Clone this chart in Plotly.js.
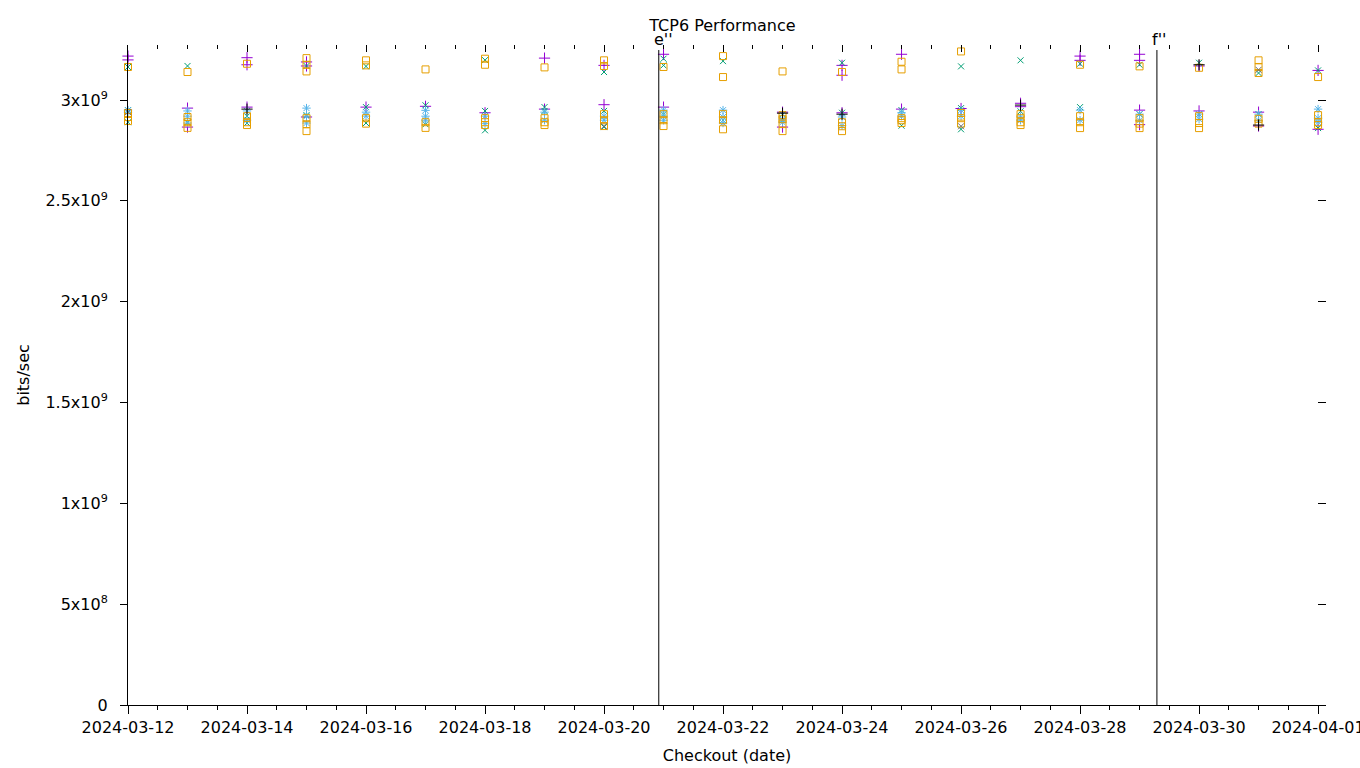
<!DOCTYPE html>
<html>
<head>
<meta charset="utf-8">
<script src="https://cdn.plot.ly/plotly-3.0.1.min.js"></script>
<style>html,body{margin:0;padding:0;background:#fff;}#chart{width:1360px;height:768px;}</style>
</head>
<body>
<div id="chart"></div>
<script>
// Checkout dates (x categories)
const checkoutDates = ['2024-03-12','2024-03-13','2024-03-14','2024-03-15','2024-03-16','2024-03-17','2024-03-18',
  '2024-03-19','2024-03-20','2024-03-21','2024-03-22','2024-03-23','2024-03-24','2024-03-25','2024-03-26',
  '2024-03-27','2024-03-28','2024-03-29','2024-03-30','2024-03-31','2024-04-01'];

// Throughput per checkout date, in Gbit/s (several runs per day)
const seriesPurple = [[3.218,3.199],[2.96,2.866],[3.21,3.175,2.965],[3.189,3.169,2.916],[2.965],[2.969],[2.937],
  [3.208,2.955],[3.172,2.977],[3.227,2.965],[],[2.94,2.866],[3.172,3.123,2.937],[3.227,2.955],[2.958],
  [2.984,2.967],[3.218,3.197],[3.227,3.197,2.95,2.878],[3.169,2.946],[2.94,2.871],[3.147,2.855]];
const seriesGreen = [[3.164,2.95,2.89],[3.169,2.89],[2.92,2.886],[3.169,2.925],[3.167,2.965,2.886],[2.974,2.88],
  [3.198,2.946,2.85],[2.965,2.946],[3.139,2.946,2.866],[3.205,3.172,2.93],[3.193,2.9],[2.93,2.9],[3.185,2.937],
  [2.95,2.873],[3.167,2.96,2.855],[3.197,2.944],[3.18,2.965],[3.175,2.93],[3.185,2.93],[3.134,2.93],[3.147,2.861]];
const seriesBlue = [[2.95,2.94],[2.946,2.92,2.886],[2.946,2.9],[2.96,2.92,2.886],[2.94,2.92],[2.949,2.92,2.9],
  [2.92,2.883],[2.94,2.9],[2.92,2.9],[2.95,2.92,2.9],[2.95,2.916,2.886],[2.905,2.89],[2.916,2.873],[2.937,2.92],
  [2.95,2.92],[2.916,2.9],[2.95,2.9],[2.93,2.9],[2.93,2.905],[2.93,2.9],[2.955,2.91,2.89]];
const seriesOrange = [[3.164,2.936,2.916,2.896],[3.139,2.916,2.89,2.862],[3.18,2.92,2.89,2.876],
  [3.208,3.175,3.142,2.91,2.88,2.846],[3.197,3.172,2.91,2.883],[3.152,2.89,2.862],[3.205,3.175,2.91,2.89,2.876],
  [3.162,2.91,2.89,2.876],[3.197,3.169,2.93,2.9,2.871],[3.164,2.93,2.9,2.871],[3.218,3.114,2.93,2.9,2.855],
  [3.142,2.925,2.905,2.883,2.846],[3.139,2.89,2.87,2.846],[3.19,3.152,2.91,2.886,2.9],[3.241,2.936,2.91,2.883],
  [2.93,2.91,2.89,2.876],[3.175,2.92,2.89,2.861],[3.167,2.91,2.883,2.861],[3.16,2.92,2.886,2.861],
  [3.197,3.164,3.134,2.907,2.883],[3.114,2.925,2.89,2.876]];
const seriesBlack = [[],[],[2.955],[],[],[],[],[],[],[],[],[2.935],[2.93],[],[],[2.975],[],[],[3.175],[2.876],[]];
const seriesGray = [[2.94],[],[],[],[],[],[],[],[2.87],[],[],[],[],[],[2.87],[],[],[],[],[3.15],[]];

// Y tick labels
const yTickVals = [0, 5e8, 1e9, 1.5e9, 2e9, 2.5e9, 3e9];
const yTickText = ['0','5x10<sup>8</sup>','1x10<sup>9</sup>','1.5x10<sup>9</sup>','2x10<sup>9</sup>','2.5x10<sup>9</sup>','3x10<sup>9</sup>'];

// Marked events
const eventDates = ['2024-03-20 22:05', '2024-03-29 07:00'];
const eventLabels = ["e''", "f''"];

function expand(series) {
  const x = [], y = [];
  series.forEach((vals, i) => vals.forEach(v => { x.push(checkoutDates[i]); y.push(v * 1e9); }));
  return {x, y};
}

const styles = [
  {data: seriesPurple, color: '#9400d3', symbol: 'cross-thin-open', size: 8},
  {data: seriesGreen, color: '#009e73', symbol: 'x-thin-open', size: 6},
  {data: seriesBlue, color: '#56b4e9', symbol: 'asterisk-open', size: 7},
  {data: seriesOrange, color: '#e69f00', symbol: 'square-open', size: 7},
  {data: seriesBlack, color: '#000000', symbol: 'cross-thin-open', size: 8},
  {data: seriesGray, color: '#707070', symbol: 'x-thin-open', size: 6}
];

const traces = styles.map(s => {
  const e = expand(s.data);
  return {type: 'scatter', mode: 'markers', x: e.x, y: e.y, showlegend: false, cliponaxis: false,
    marker: {symbol: s.symbol, size: s.size, color: s.color, line: {color: s.color, width: 1}}};
});

const FONT = 'DejaVu Sans, sans-serif';
const FS = 16;
const xRange = ['2024-03-12 00:00', '2024-04-01 03:12'];
const yTop = 3.273e9;

const shapes = eventDates.map(d => ({type: 'line', xref: 'x', yref: 'paper', x0: d, x1: d, y0: 0, y1: 0.9924,
  line: {color: '#000', width: 1}}));
const annotations = eventDates.map((d, i) => ({xref: 'x', yref: 'paper', x: d, y: 1.0076, text: eventLabels[i],
  showarrow: false, xanchor: 'left', yanchor: 'middle', xshift: -7, font: {family: FONT, size: FS, color: '#000'}}));

const layout = {
  width: 1360, height: 768,
  paper_bgcolor: '#fff', plot_bgcolor: '#fff',
  margin: {l: 128, r: 34, t: 45, b: 63},
  font: {family: FONT, size: FS, color: '#000'},
  title: {text: 'TCP6 Performance', xref: 'container', yref: 'container', x: 0.5312, y: 1 - 25/768,
    xanchor: 'center', yanchor: 'middle', font: {family: FONT, size: FS, color: '#000'}},
  xaxis: {type: 'date', range: xRange, showgrid: false, zeroline: false, showline: true, linecolor: '#000', linewidth: 1,
    ticks: 'outside', ticklen: 8, tickwidth: 1, tickcolor: '#000', tick0: '2024-03-12', dtick: 172800000,
    tickformat: '%Y-%m-%d', ticklabeloverflow: 'allow', tickfont: {family: FONT, size: FS, color: '#000'},
    minor: {dtick: 43200000, tick0: '2024-03-12', ticks: 'outside', ticklen: 4, tickwidth: 1, tickcolor: '#000', showgrid: false},
    title: {text: 'Checkout (date)', standoff: 13, font: {family: FONT, size: FS, color: '#000'}}},
  xaxis2: {type: 'date', range: xRange, overlaying: 'x', side: 'top', showgrid: false, zeroline: false, showline: false,
    ticks: 'inside', ticklen: 7, tickwidth: 1, tickcolor: '#000', tick0: '2024-03-12', dtick: 172800000, showticklabels: false,
    minor: {dtick: 43200000, tick0: '2024-03-12', ticks: 'inside', ticklen: 4, tickwidth: 1, tickcolor: '#000', showgrid: false}},
  yaxis: {range: [0, yTop], showgrid: false, zeroline: false, showline: true, linecolor: '#000', linewidth: 1,
    ticks: 'outside', ticklen: 7, tickwidth: 1, tickcolor: '#000', tickmode: 'array', tickvals: yTickVals, ticktext: yTickText,
    ticklabelstandoff: 9, tickfont: {family: FONT, size: FS, color: '#000'},
    title: {text: 'bits/sec', standoff: 11, font: {family: FONT, size: FS, color: '#000'}}},
  yaxis2: {range: [0, yTop], overlaying: 'y', side: 'right', showgrid: false, zeroline: false, showline: false,
    ticks: 'inside', ticklen: 8, tickwidth: 1, tickcolor: '#000', tickmode: 'array', tickvals: yTickVals, showticklabels: false},
  shapes: shapes,
  annotations: annotations
};

// dummy trace to activate the mirror axes
traces.push({type: 'scatter', mode: 'markers', x: [checkoutDates[0]], y: [null], xaxis: 'x2', yaxis: 'y2', showlegend: false, hoverinfo: 'skip'});

Plotly.newPlot('chart', traces, layout, {staticPlot: true});
</script>
</body>
</html>
